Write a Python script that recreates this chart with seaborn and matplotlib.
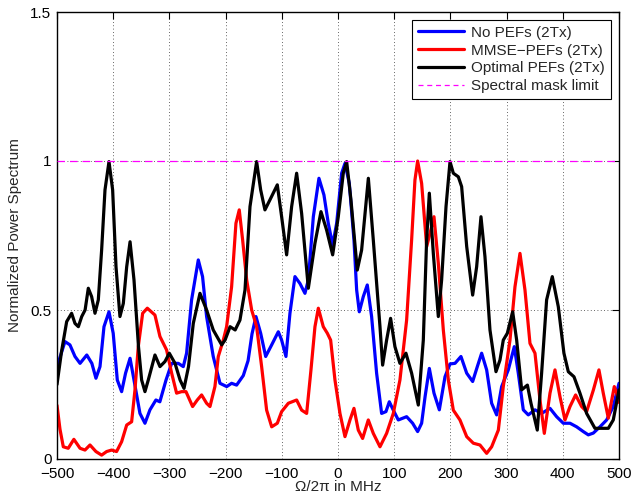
import matplotlib
matplotlib.use("Agg")
import matplotlib.pyplot as plt
import seaborn as sns
import pandas as pd
import numpy as np

# ---- data ----
black_x = [-500, -492, -482.8, -474, -468, -462, -456, -450, -444.3, -438.4, -432.4, -426.5, -420.6, -414.6,
           -407.5, -401, -395, -388, -382, -376, -370, -363, -355, -349.4, -343.5, -337.6, -325.7, -316.8,
           -307.9, -300.2, -290, -281, -274, -266, -257.5, -245.6, -233.8, -222, -207, -201, -192, -183,
           -174.5, -165.5, -156.6, -144.8, -137.6, -130, -121, -108, -100.3, -91.4, -82.5, -73.6, -64.7,
           -52.8, -41, -30.3, -20.2, -9.5, 0.5, 9.4, 15.4, 23, 34.3, 42, 54, 62.8, 74.7, 79.4, 86.5, 93.6,
           101.3, 110.2, 120.9, 131, 142.9, 151.8, 157.7, 162.5, 169.6, 178.5, 184.4, 192.2, 199.3, 205.2,
           214.1, 220, 229, 239.6, 246.7, 254.4, 261.5, 270.4, 281.1, 288.2, 294.1, 301.3, 310.8, 317.9,
           326.8, 337, 343.4, 354.6, 362.3, 371.2, 381.3, 392, 402, 409.8, 419.9, 430.5, 442.4, 457.2,
           469.1, 481, 489.8, 500]
black_y = [0.25, 0.36, 0.461, 0.489, 0.455, 0.444, 0.478, 0.50, 0.573, 0.545, 0.489, 0.534, 0.701, 0.903,
           0.998, 0.903, 0.645, 0.478, 0.522, 0.645, 0.729, 0.601, 0.377, 0.265, 0.226, 0.265, 0.349, 0.31,
           0.327, 0.355, 0.321, 0.265, 0.237, 0.31, 0.455, 0.556, 0.50, 0.433, 0.383, 0.399, 0.444, 0.433,
           0.466, 0.567, 0.847, 0.998, 0.903, 0.836, 0.87, 0.92, 0.813, 0.685, 0.847, 0.959, 0.824,
           0.573, 0.724, 0.83, 0.768, 0.685, 0.813, 0.959, 0.998, 0.87, 0.634, 0.701, 0.942, 0.735, 0.444,
           0.315, 0.399, 0.472, 0.377, 0.321, 0.355, 0.288, 0.181, 0.399, 0.735, 0.892, 0.69, 0.478, 0.601,
           0.847, 0.998, 0.959, 0.947, 0.914, 0.713, 0.55, 0.645, 0.813, 0.679, 0.433, 0.293, 0.332, 0.399,
           0.422, 0.494, 0.399, 0.232, 0.248, 0.187, 0.097, 0.288, 0.534, 0.612, 0.511, 0.355, 0.293, 0.276,
           0.221, 0.153, 0.103, 0.103, 0.103, 0.131, 0.232]

blue_x = [-500, -485.8, -477, -468, -459, -447, -438, -430.7, -423.5, -416.4, -407.5, -400, -392.7, -385,
          -378, -370, -363, -352.4, -343.5, -334.6, -324, -317, -306, -296, -284.2, -275.3, -269.4, -260.5,
          -248.6, -241, -233.8, -222, -210, -198, -189.3, -180.4, -168.5, -160, -153, -146, -137.6, -128.7,
          -118, -106.2, -100.3, -92.6, -85.5, -76.6, -67.7, -58.8, -52.8, -43.9, -33.9, -25, -17.3, -9.5,
          -2.4, 6.5, 12.4, 20.1, 28.4, 33.2, 37.9, 45, 52.1, 59.8, 68.7, 77.6, 85.3, 91.3, 98.4, 107.3,
          122.1, 132.8, 141.7, 148.8, 155, 162.5, 170.8, 180.3, 190.4, 199.3, 208.2, 218.8, 229, 239.6,
          247.9, 255.6, 264.5, 273.4, 282.3, 291.2, 303, 313.7, 320.8, 329.7, 338.6, 350.5, 362.3, 377.2,
          389, 400.9, 412.8, 424.6, 436.5, 445.4, 454.3, 466.1, 478, 489.8, 500]
blue_y = [0.31, 0.394, 0.383, 0.344, 0.321, 0.349, 0.321, 0.271, 0.31, 0.444, 0.494, 0.422, 0.265, 0.226,
          0.288, 0.338, 0.265, 0.153, 0.12, 0.165, 0.198, 0.192, 0.265, 0.321, 0.321, 0.31, 0.355, 0.534,
          0.668, 0.612, 0.478, 0.344, 0.254, 0.243, 0.254, 0.248, 0.28, 0.33, 0.42, 0.478, 0.422, 0.344,
          0.383, 0.427, 0.399, 0.344, 0.489, 0.612, 0.589, 0.556, 0.601, 0.813, 0.942, 0.886, 0.791, 0.718,
          0.791, 0.959, 0.992, 0.925, 0.735, 0.567, 0.494, 0.545, 0.584, 0.478, 0.288, 0.153, 0.159, 0.192,
          0.164, 0.131, 0.142, 0.12, 0.092, 0.12, 0.21, 0.304, 0.221, 0.165, 0.276, 0.319, 0.321, 0.344,
          0.288, 0.26, 0.31, 0.355, 0.299, 0.187, 0.148, 0.243, 0.299, 0.377, 0.288, 0.165, 0.148, 0.165,
          0.153, 0.17, 0.142, 0.12, 0.12, 0.108, 0.092, 0.081, 0.087, 0.108, 0.131, 0.176, 0.254]

red_x = [-500, -494.7, -488.8, -480, -470, -459, -450.2, -441.3, -430.7, -420.6, -411.7, -402.8, -394, -385,
         -376, -367.2, -361.3, -355.4, -347.6, -339.3, -325.7, -316.8, -305, -296, -287.2, -278.3, -270.5,
         -258.7, -250.4, -242.7, -233.8, -227.8, -219, -213, -204.1, -198.2, -189.3, -181.6, -175.7, -169.7,
         -162.5, -153.6, -144.8, -135.9, -127, -118, -108, -100.3, -88.4, -73.6, -64.7, -55.8, -48.1, -41,
         -35, -26.2, -19, -13.1, -5.4, 3.5, 12.4, 21.3, 28.4, 36.1, 43.8, 53.9, 62.8, 74.7, 86.5, 98.4,
         110.2, 122.1, 131, 136.9, 141.7, 148.8, 157.8, 163.7, 170.8, 178.5, 187.4, 196.3, 205.2, 217, 229,
         240.8, 252.6, 264.5, 273.4, 285.3, 294.1, 306, 314.9, 323.8, 332.7, 341.6, 350.5, 359.4, 367.1,
         377.2, 386.1, 395, 403.9, 412.8, 422.8, 433.5, 442.4, 454.3, 464.3, 472, 481, 491.6, 495.8, 500]
red_y = [0.18, 0.1, 0.041, 0.036, 0.066, 0.036, 0.03, 0.047, 0.025, 0.013, 0.025, 0.03, 0.025, 0.058,
         0.114, 0.125, 0.231, 0.377, 0.489, 0.506, 0.483, 0.411, 0.366, 0.288, 0.221, 0.226, 0.226,
         0.176, 0.198, 0.215, 0.187, 0.176, 0.243, 0.344, 0.399, 0.444, 0.578, 0.791, 0.836, 0.735,
         0.601, 0.5, 0.444, 0.31, 0.164, 0.108, 0.12, 0.159, 0.187, 0.198, 0.164, 0.153, 0.299, 0.444,
         0.506, 0.444, 0.422, 0.399, 0.265, 0.153, 0.075, 0.131, 0.17, 0.097, 0.069, 0.131, 0.086, 0.041,
         0.086, 0.153, 0.265, 0.466, 0.735, 0.936, 1.0, 0.925, 0.713, 0.757, 0.813, 0.657, 0.433, 0.265,
         0.164, 0.131, 0.075, 0.053, 0.047, 0.019, 0.041, 0.097, 0.243, 0.399, 0.578, 0.69, 0.567, 0.388,
         0.355, 0.198, 0.086, 0.221, 0.299, 0.209, 0.131, 0.176, 0.215, 0.176, 0.159, 0.231, 0.299, 0.221,
         0.137, 0.243, 0.221, 0.19]

mask_x = [-500, 500]
mask_y = [1.0, 1.0]

labels = ["No PEFs (2Tx)", "MMSE\u2212PEFs (2Tx)", "Optimal PEFs (2Tx)", "Spectral mask limit"]
x_ticks = [-500, -400, -300, -200, -100, 0, 100, 200, 300, 400, 500]
y_ticks = [0, 0.5, 1, 1.5]
y_tick_labels = ["0", "0.5", "1", "1.5"]

# ---- style ----
sns.set_style("white")
plt.rcParams['font.family'] = ['Liberation Sans', 'DejaVu Sans']
plt.rcParams['axes.unicode_minus'] = True

fig = plt.figure(figsize=(6.32, 4.95), dpi=100)
ax = fig.add_axes([57/632, 36/495, 562/632, 447/495])
ax.set_axisbelow(True)

df_blue = pd.DataFrame({"x": blue_x, "y": blue_y})
df_red = pd.DataFrame({"x": red_x, "y": red_y})
df_black = pd.DataFrame({"x": black_x, "y": black_y})
df_mask = pd.DataFrame({"x": mask_x, "y": mask_y})

lw = 2.3
sns.lineplot(data=df_blue, x="x", y="y", ax=ax, color="#0000FF", lw=lw, label=labels[0],
             sort=False, estimator=None, solid_joinstyle="round", solid_capstyle="round")
sns.lineplot(data=df_red, x="x", y="y", ax=ax, color="#FF0000", lw=lw, label=labels[1],
             sort=False, estimator=None, solid_joinstyle="round", solid_capstyle="round")
sns.lineplot(data=df_black, x="x", y="y", ax=ax, color="#000000", lw=lw, label=labels[2],
             sort=False, estimator=None, solid_joinstyle="round", solid_capstyle="round")
sns.lineplot(data=df_mask, x="x", y="y", ax=ax, color="#FF00FF", lw=0.9, label=labels[3],
             sort=False, estimator=None, linestyle=(0, (6, 4)), zorder=3)

ax.set_xlim(-500, 500)
ax.set_ylim(0, 1.5)
ax.set_xticks(x_ticks)
ax.set_yticks(y_ticks)
ax.set_yticklabels(y_tick_labels)
ax.tick_params(direction="in", length=5, width=0.8, top=True, right=True,
               labelsize=11, colors="black")
ax.tick_params(axis="x", pad=6)
ax.tick_params(axis="y", pad=4)
for t in ax.get_yticklabels():
    t.set_verticalalignment("center_baseline")
ax.grid(True, linestyle=(0, (1, 3)), color="black", linewidth=0.6, alpha=0.8, zorder=0)
for s in ax.spines.values():
    s.set_visible(True)
    s.set_color("black")
    s.set_linewidth(1.0)

ax.set_xlabel("\u03a9/2\u03c0 in MHz", fontsize=11, labelpad=-1)
ax.set_ylabel("Normalized Power Spectrum", fontsize=11, labelpad=6)

leg = ax.legend(loc="upper right", fontsize=11, frameon=True, fancybox=False, framealpha=1,
                edgecolor="black", handlelength=3.0, labelspacing=0.25, borderpad=0.4,
                handletextpad=0.5, borderaxespad=0.5)
leg.get_frame().set_linewidth(0.8)
leg.get_lines()[3].set_linestyle((0, (4, 3)))

fig.savefig("out.png", dpi=100)
